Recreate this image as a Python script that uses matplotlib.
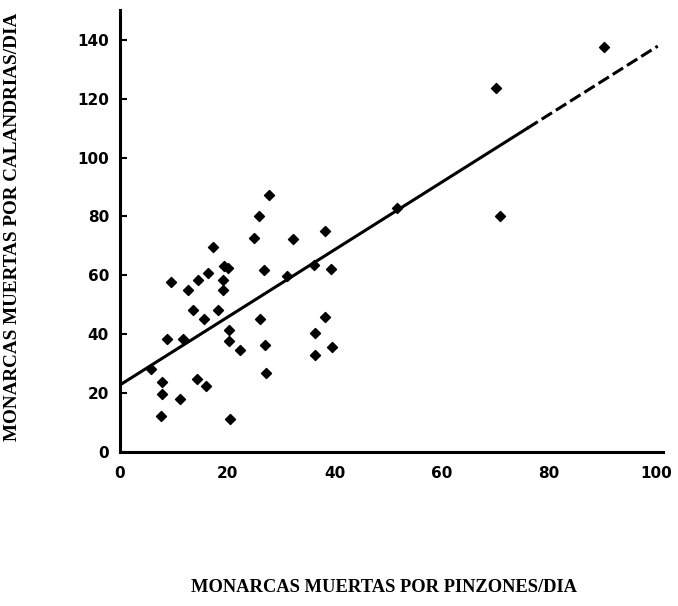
import numpy as np
import matplotlib
matplotlib.use("Agg")
import matplotlib.pyplot as plt

# monarcas muertas por pinzones/dia (x) vs por calandrias/dia (y)
pinzones = [25.0, 32.2, 38.2, 17.4, 19.4, 20.2, 26.9, 39.3, 9.6, 14.5,
            16.5, 19.3, 19.3, 12.6, 31.2, 36.2, 13.7, 18.3, 15.7, 26.1,
            38.2, 8.7, 11.8, 20.4, 20.4, 22.3, 27.1, 36.4, 39.5, 36.4,
            27.2, 5.7, 7.8, 7.8, 11.1, 7.6, 14.3, 16.0, 20.5, 27.8,
            25.9, 51.6, 90.3, 70.1, 70.9]
calandrias = [72.7, 72.4, 74.9, 69.8, 63.2, 62.4, 61.8, 62.0, 57.9, 58.5,
              60.8, 58.5, 55.1, 54.9, 59.9, 63.4, 48.3, 48.3, 45.3, 45.3,
              46.0, 38.5, 38.4, 41.3, 37.8, 34.5, 36.4, 40.6, 35.8, 32.8,
              26.8, 28.2, 23.9, 19.7, 17.9, 12.2, 24.7, 22.4, 11.2, 87.4,
              80.3, 82.9, 137.6, 123.5, 80.3]

# recta de regresion
intercepto = 22.8
pendiente = 1.147

fig = plt.figure(figsize=(6.78, 6.06), dpi=100)
ax = fig.add_axes([0.177, 0.254, 0.801, 0.729])

ax.scatter(pinzones, calandrias, marker='D', s=26, color='black', zorder=3)

xs = np.array([0, 76])
ax.plot(xs, intercepto + pendiente * xs, color='black', lw=2.2)
xd = np.array([76, 100.3])
ax.plot(xd, intercepto + pendiente * xd, color='black', lw=2.2,
        dashes=(4, 1.5))

ax.set_xlim(0, 101.3)
ax.set_ylim(0, 150)
ax.set_xticks([0, 20, 40, 60, 80, 100])
ax.set_yticks([0, 20, 40, 60, 80, 100, 120, 140])
ax.spines['top'].set_visible(False)
ax.spines['right'].set_visible(False)
ax.spines['left'].set_linewidth(2.2)
ax.spines['bottom'].set_linewidth(2.2)
ax.tick_params(axis='x', length=0, pad=10, labelsize=11)
ax.tick_params(axis='y', direction='in', length=5, width=1.5, pad=8, labelsize=11)
for lab in ax.get_xticklabels() + ax.get_yticklabels():
    lab.set_fontweight('bold')

fig.text(0.019, 0.625, 'MONARCAS MUERTAS POR CALANDRIAS/DIA', rotation=90,
         ha='center', va='center', fontsize=13.8, fontweight='bold',
         family='Liberation Serif')
fig.text(0.566, 0.03, 'MONARCAS MUERTAS POR PINZONES/DIA',
         ha='center', va='center', fontsize=13.3, fontweight='bold',
         family='Liberation Serif')

fig.savefig('out.png', dpi=100)
